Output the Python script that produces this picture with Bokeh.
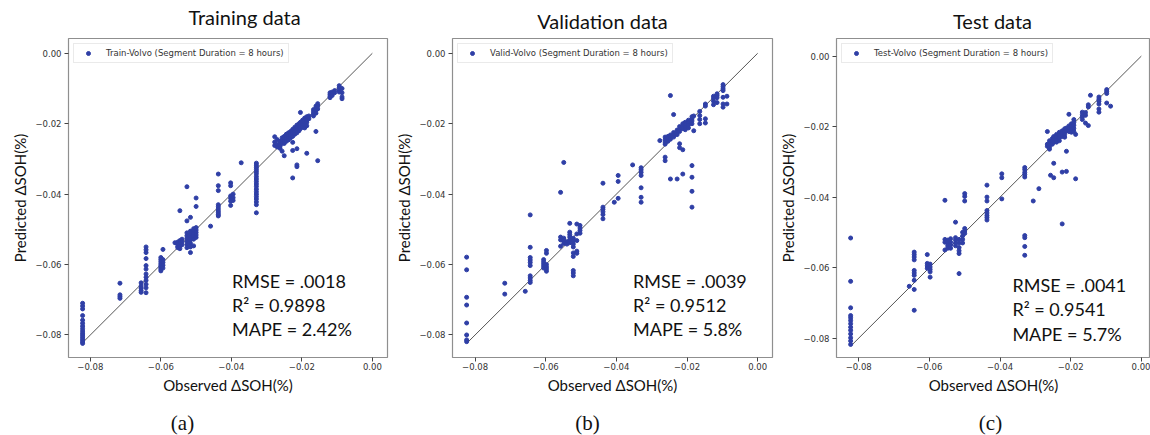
from bokeh.plotting import figure
from bokeh.layouts import row, column
from bokeh.models import Label, FixedTicker, CustomJSTickFormatter, Range1d
from bokeh.core.properties import value
from bokeh.embed import file_html
from bokeh.resources import INLINE

# ---------------- data ----------------
tick_values = [-0.08, -0.06, -0.04, -0.02, 0.0]
ideal_line = [-0.082, 0.0]

panel_titles = ["Training data", "Validation data", "Test data"]
legend_labels = ["Train-Volvo (Segment Duration = 8 hours)",
                 "Valid-Volvo (Segment Duration = 8 hours)",
                 "Test-Volvo (Segment Duration = 8 hours)"]
rmse_values = [".0018", ".0039", ".0041"]
r2_values = ["0.9898", "0.9512", "0.9541"]
mape_values = ["2.42%", "5.8%", "5.7%"]
panel_letters = ["(a)", "(b)", "(c)"]

# observed value of each column of points, and the predicted values in it
train_obs = [-0.0822, -0.0716, -0.0656, -0.0642, -0.0600, -0.0594, -0.0560, -0.0552,
             -0.0546, -0.0540, -0.0526, -0.0516, -0.0507, -0.0500, -0.0459, -0.0437,
             -0.0402, -0.0395, -0.0372, -0.0329, -0.0277, -0.0270, -0.0262, -0.0256,
             -0.0250, -0.0244, -0.0238, -0.0232, -0.0226, -0.0220, -0.0214, -0.0208,
             -0.0204, -0.0198, -0.0192, -0.0186, -0.0180, -0.0167, -0.0160, -0.0155,
             -0.0120, -0.0114, -0.0107, -0.0094, -0.0086]
train_pred = [
    [-0.0710, -0.0718, -0.0726, -0.0745, -0.0758, -0.0767, -0.0775, -0.0782, -0.0789,
     -0.0795, -0.0800, -0.0805, -0.0810, -0.0815, -0.0820, -0.0824],
    [-0.0653, -0.0686, -0.0691, -0.0696],
    [-0.0652, -0.0661, -0.0667, -0.0674, -0.0679],
    [-0.0550, -0.0558, -0.0566, -0.0583, -0.0603, -0.0613, -0.0627, -0.0636, -0.0645,
     -0.0656, -0.0666, -0.0680],
    [-0.0580, -0.0586, -0.0592, -0.0598, -0.0603, -0.0608, -0.0613, -0.0618],
    [-0.0557, -0.0586, -0.0594, -0.0602, -0.0610],
    [-0.0538],
    [-0.0536, -0.0542, -0.0548, -0.0552],
    [-0.0447, -0.0532, -0.0540, -0.0547, -0.0555],
    [-0.0528, -0.0536, -0.0544],
    [-0.0379, -0.0476, -0.0510, -0.0518, -0.0526, -0.0534, -0.0543, -0.0552],
    [-0.0466, -0.0505, -0.0514, -0.0522, -0.0530, -0.0540, -0.0550, -0.0566],
    [-0.0498, -0.0505, -0.0512, -0.0520, -0.0528, -0.0547],
    [-0.0411, -0.0435, -0.0495, -0.0502, -0.0509, -0.0516, -0.0523],
    [-0.0491],
    [-0.0343, -0.0376, -0.0390, -0.0430, -0.0436, -0.0442, -0.0448, -0.0453, -0.0458, -0.0462],
    [-0.0368, -0.0376, -0.0405, -0.0412, -0.0420, -0.0432],
    [-0.0400, -0.0410, -0.0418],
    [-0.0311],
    [-0.0312, -0.0318, -0.0324, -0.0330, -0.0336, -0.0342, -0.0350, -0.0357, -0.0364,
     -0.0371, -0.0378, -0.0386, -0.0393, -0.0400, -0.0407, -0.0414, -0.0422, -0.0430, -0.0453],
    [-0.0237, -0.0252, -0.0262],
    [-0.0245, -0.0258, -0.0266],
    [-0.0250, -0.0258, -0.0264, -0.0270],
    [-0.0240, -0.0248, -0.0256, -0.0278],
    [-0.0236, -0.0244, -0.0250, -0.0256, -0.0291],
    [-0.0230, -0.0238, -0.0244, -0.0250],
    [-0.0226, -0.0234, -0.0240, -0.0246],
    [-0.0222, -0.0228, -0.0234, -0.0240],
    [-0.0216, -0.0222, -0.0228, -0.0236, -0.0253, -0.0276, -0.0354],
    [-0.0210, -0.0216, -0.0222, -0.0230],
    [-0.0204, -0.0212, -0.0218, -0.0226, -0.0271, -0.0317, -0.0322],
    [-0.0200, -0.0206, -0.0212, -0.0220],
    [-0.0168, -0.0196, -0.0202, -0.0208, -0.0214],
    [-0.0190, -0.0196, -0.0202, -0.0210],
    [-0.0184, -0.0190, -0.0197, -0.0204, -0.0212],
    [-0.0180, -0.0188, -0.0196, -0.0206, -0.0284],
    [-0.0178, -0.0186],
    [-0.0160, -0.0166, -0.0172, -0.0178],
    [-0.0150, -0.0156, -0.0162, -0.0170, -0.0222],
    [-0.0143, -0.0150, -0.0158, -0.0305],
    [-0.0112, -0.0117, -0.0122, -0.0126],
    [-0.0110, -0.0115, -0.0120],
    [-0.0106, -0.0112],
    [-0.0092, -0.0098, -0.0104, -0.0110],
    [-0.0100, -0.0112, -0.0124, -0.0129],
]

valid_obs = [-0.0824, -0.0716, -0.0658, -0.0644, -0.0606, -0.0598, -0.0558, -0.0549,
             -0.0540, -0.0532, -0.0522, -0.0512, -0.0503, -0.0438, -0.0406, -0.0395,
             -0.0354, -0.0330, -0.0277, -0.0262, -0.0254, -0.0247, -0.0238, -0.0228,
             -0.0221, -0.0212, -0.0205, -0.0196, -0.0186, -0.0181, -0.0164, -0.0148,
             -0.0125, -0.0115, -0.0098, -0.0087]
valid_pred = [
    [-0.0579, -0.0615, -0.0693, -0.0715, -0.0766, -0.0800, -0.0814, -0.0819],
    [-0.0653, -0.0684],
    [-0.0676],
    [-0.0459, -0.0551, -0.0580, -0.0587, -0.0594, -0.0603, -0.0632, -0.0638, -0.0645, -0.0651],
    [-0.0586, -0.0592, -0.0598, -0.0604, -0.0610],
    [-0.0560, -0.0568, -0.0600, -0.0607, -0.0613, -0.0619],
    [-0.0395, -0.0522, -0.0530, -0.0548],
    [-0.0310, -0.0525, -0.0532, -0.0540],
    [-0.0535, -0.0542],
    [-0.0483, -0.0508, -0.0515, -0.0522, -0.0530, -0.0538],
    [-0.0525, -0.0533, -0.0542, -0.0550, -0.0567, -0.0577, -0.0617, -0.0624, -0.0632],
    [-0.0485, -0.0513, -0.0532, -0.0562, -0.0568],
    [-0.0489, -0.0496, -0.0503, -0.0511],
    [-0.0369, -0.0437, -0.0443, -0.0450, -0.0458, -0.0470],
    [-0.0423],
    [-0.0347, -0.0364, -0.0412],
    [-0.0317],
    [-0.0325, -0.0331, -0.0338, -0.0347, -0.0382, -0.0409, -0.0423],
    [-0.0248],
    [-0.0238, -0.0245, -0.0252, -0.0258, -0.0295, -0.0305],
    [-0.0236, -0.0243, -0.0250],
    [-0.0120, -0.0232, -0.0238, -0.0244, -0.0357],
    [-0.0174, -0.0225, -0.0232, -0.0238],
    [-0.0218, -0.0224, -0.0231, -0.0357],
    [-0.0208, -0.0215, -0.0222, -0.0257, -0.0268],
    [-0.0200, -0.0207, -0.0214, -0.0274, -0.0343],
    [-0.0196, -0.0203, -0.0210, -0.0217],
    [-0.0190, -0.0197, -0.0204, -0.0212],
    [-0.0180, -0.0186, -0.0192, -0.0200, -0.0319, -0.0352, -0.0392, -0.0437],
    [-0.0178, -0.0220],
    [-0.0165, -0.0177, -0.0188, -0.0200],
    [-0.0144, -0.0150, -0.0186, -0.0198],
    [-0.0122, -0.0128, -0.0136, -0.0146],
    [-0.0115, -0.0120, -0.0126, -0.0140],
    [-0.0089, -0.0095, -0.0101, -0.0106, -0.0125, -0.0144, -0.0153],
    [-0.0122, -0.0144],
]

test_obs = [-0.0823, -0.0657, -0.0643, -0.0606, -0.0598, -0.0556, -0.0548, -0.0540,
            -0.0526, -0.0516, -0.0506, -0.0500, -0.0437, -0.0395, -0.0330, -0.0306,
            -0.0290, -0.0266, -0.0260, -0.0257, -0.0252, -0.0248, -0.0240, -0.0232,
            -0.0224, -0.0217, -0.0212, -0.0205, -0.0198, -0.0191, -0.0186, -0.0167,
            -0.0158, -0.0150, -0.0144, -0.0120, -0.0098, -0.0087]
test_pred = [
    [-0.0516, -0.0639, -0.0714, -0.0736, -0.0742, -0.0750, -0.0759, -0.0769, -0.0778,
     -0.0788, -0.0799, -0.0808, -0.0818],
    [-0.0653],
    [-0.0556, -0.0563, -0.0570, -0.0578, -0.0608, -0.0615, -0.0622, -0.0636, -0.0662, -0.0721],
    [-0.0563, -0.0588, -0.0595, -0.0602],
    [-0.0590, -0.0598, -0.0605, -0.0612, -0.0627],
    [-0.0409, -0.0520, -0.0528, -0.0550],
    [-0.0522, -0.0530, -0.0538, -0.0545],
    [-0.0518, -0.0528, -0.0536, -0.0545],
    [-0.0471, -0.0515, -0.0522, -0.0530, -0.0538],
    [-0.0520, -0.0530, -0.0543, -0.0552, -0.0560, -0.0617],
    [-0.0500, -0.0510, -0.0520, -0.0530],
    [-0.0390, -0.0398, -0.0411, -0.0489, -0.0496, -0.0503],
    [-0.0366, -0.0400, -0.0411, -0.0438, -0.0445, -0.0452, -0.0458, -0.0465],
    [-0.0334, -0.0345, -0.0405],
    [-0.0316, -0.0322, -0.0330, -0.0336, -0.0343, -0.0509, -0.0515, -0.0540, -0.0565],
    [-0.0411],
    [-0.0376],
    [-0.0214, -0.0250, -0.0256],
    [-0.0240, -0.0248, -0.0258, -0.0264],
    [-0.0338],
    [-0.0234, -0.0242, -0.0250],
    [-0.0228, -0.0236, -0.0244, -0.0304, -0.0345],
    [-0.0222, -0.0230, -0.0238, -0.0244],
    [-0.0216, -0.0224, -0.0232, -0.0240],
    [-0.0212, -0.0220, -0.0228, -0.0329, -0.0476],
    [-0.0206, -0.0214, -0.0222, -0.0230],
    [-0.0204, -0.0212, -0.0270, -0.0327],
    [-0.0165, -0.0198, -0.0206, -0.0214],
    [-0.0192, -0.0200, -0.0208, -0.0216],
    [-0.0180, -0.0188, -0.0196, -0.0205, -0.0214],
    [-0.0222, -0.0348],
    [-0.0159, -0.0166, -0.0172, -0.0180],
    [-0.0160, -0.0168, -0.0190],
    [-0.0138, -0.0144, -0.0197],
    [-0.0111],
    [-0.0116, -0.0122, -0.0128, -0.0136, -0.0150, -0.0159],
    [-0.0095, -0.0100, -0.0106, -0.0133],
    [-0.0142],
]

# ---------------- styling ----------------
DOT = "#2f3fa6"
TITLE_FONT = "Lato"
TICK_FONT = "DejaVu Sans"
PAGE_W = 1150
TOP_H = 36
MAIN_H = 364
BOTTOM_H = 35

tick_fmt_code = """
const s = Math.abs(tick).toFixed(2);
return (tick < -1e-9 ? "\u2212" : "") + s;
"""


def expand(obs, pred):
    xs, ys = [], []
    for o, ps in zip(obs, pred):
        for v in ps:
            xs.append(o)
            ys.append(v)
    return xs, ys


def text_strip(height, xs, ys, texts, font, size):
    s = figure(width=PAGE_W, height=height, output_backend="svg", toolbar_location=None,
               x_range=Range1d(0, PAGE_W), y_range=Range1d(0, height),
               min_border=0, min_border_left=0, min_border_right=0,
               min_border_top=0, min_border_bottom=0)
    s.outline_line_color = None
    s.axis.visible = False
    s.grid.visible = False
    s.background_fill_color = "white"
    s.border_fill_color = "white"
    s.text(x=xs, y=ys, text=texts, text_font=value(font), text_font_size=size,
           text_color="#111111", text_align="center", text_baseline="middle")
    return s


def make_panel(i, obs, pred, width, bl, br, xr, yr, stats_pos):
    p = figure(width=width, height=MAIN_H, output_backend="svg", toolbar_location=None,
               x_range=Range1d(*xr), y_range=Range1d(*yr), title=None,
               min_border_left=bl, min_border_right=br, min_border_top=2, min_border_bottom=43)
    p.background_fill_color = "white"
    p.border_fill_color = "white"
    p.outline_line_color = "#8f8f8f"
    p.outline_line_width = 1.2
    p.grid.visible = False

    xs, ys = expand(obs, pred)
    p.line(ideal_line, ideal_line, line_color="#555555", line_width=1)
    p.scatter(xs, ys, size=4, color=DOT, line_color=DOT, legend_label=legend_labels[i])

    for ax in (p.xaxis[0], p.yaxis[0]):
        ax.ticker = FixedTicker(ticks=tick_values)
        ax.formatter = CustomJSTickFormatter(code=tick_fmt_code)
        ax.axis_line_color = None
        ax.major_tick_line_color = "#444444"
        ax.major_tick_out = 4
        ax.major_tick_in = 0
        ax.minor_tick_line_color = None
        ax.major_label_text_font = TICK_FONT
        ax.major_label_text_font_size = "8.5px"
        ax.major_label_text_color = "#333333"
        ax.axis_label_text_font = TITLE_FONT
        ax.axis_label_text_font_size = "15px"
        ax.axis_label_text_font_style = "normal"
        ax.axis_label_text_color = "#111111"
    p.xaxis.axis_label = "Observed \u0394SOH(%)"
    p.yaxis.axis_label = "Predicted \u0394SOH(%)"
    p.xaxis.major_label_standoff = 1
    p.yaxis.major_label_standoff = 3
    p.xaxis.axis_label_standoff = 3
    p.yaxis.axis_label_standoff = 3

    lg = p.legend[0]
    lg.location = "top_left"
    lg.margin = 5
    lg.padding = 4
    lg.spacing = 0
    lg.glyph_width = 20
    lg.glyph_height = 10
    lg.label_height = 10
    lg.label_standoff = 8
    lg.label_text_font = TICK_FONT
    lg.label_text_font_size = "8.5px"
    lg.label_text_color = "#333333"
    lg.border_line_color = "#d6d6d6"
    lg.border_line_width = 1
    lg.background_fill_alpha = 0.9

    lines = ["RMSE = " + rmse_values[i], "R\u00b2 = " + r2_values[i], "MAPE = " + mape_values[i]]
    for k, t in enumerate(lines):
        p.add_layout(Label(x=stats_pos[0], y=stats_pos[1][k], text=t,
                           text_font=TITLE_FONT, text_font_size="18px", text_color="#111111",
                           text_align="left", text_baseline="middle"))
    return p


p1 = make_panel(0, train_obs, train_pred, 390, 68, 3,
                (-0.0862, 0.0043), (-0.0864, 0.0042),
                (-0.0398, [-0.0646, -0.0714, -0.0782]))
p2 = make_panel(1, valid_obs, valid_pred, 385, 62, 3,
                (-0.0864, 0.0042), (-0.0864, 0.0042),
                (-0.0353, [-0.0646, -0.0714, -0.0782]))
p3 = make_panel(2, test_obs, test_pred, 375, 61, 0,
                (-0.0863, 0.0026), (-0.0855, 0.0050),
                (-0.0365, [-0.0648, -0.0716, -0.0787]))

# titles above the panels and sub-figure letters below them (pixel positions on the page)
top = text_strip(TOP_H, [244, 602, 992], [TOP_H - 16, TOP_H - 20.5, TOP_H - 20.5],
                 panel_titles, TITLE_FONT, "20px")
bottom = text_strip(BOTTOM_H, [182, 587, 990], [BOTTOM_H - 22, BOTTOM_H - 22, BOTTOM_H - 22],
                    panel_letters, "Liberation Serif", "21px")

layout = column(top, row(p1, p2, p3, spacing=0), bottom, spacing=0)

with open("out.html", "w", encoding="utf-8") as f:
    f.write(file_html(layout, INLINE))
